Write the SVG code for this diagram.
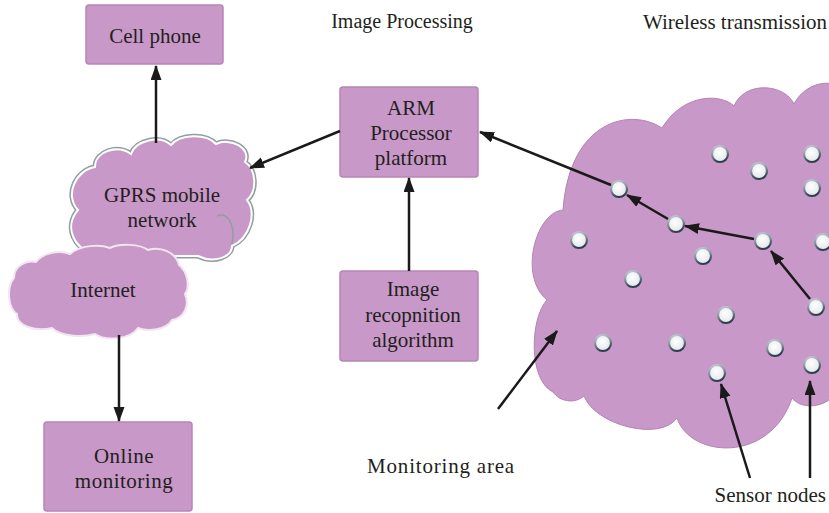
<svg xmlns="http://www.w3.org/2000/svg" width="829" height="513" viewBox="0 0 829 513">
<style>
.box{fill:#c898c8;stroke:#b585b5;stroke-width:1.5}
.t{font-family:"Liberation Serif","Times New Roman",serif;font-size:21px;fill:#231f20;text-anchor:middle}
.cl{fill:#c898c8}
.ln{stroke:#1a1a1a;stroke-width:2.5;fill:none;marker-end:url(#ah)}
.sn{fill:url(#ng);stroke:url(#ns);stroke-width:2.2}
</style>
<defs>
<marker id="ah" markerUnits="userSpaceOnUse" markerWidth="15" markerHeight="12" refX="14" refY="5.5" orient="auto">
<path d="M0,0 L15,5.5 L0,11 Z" fill="#1a1a1a"/>
</marker>
<radialGradient id="ng" cx="0.45" cy="0.4" r="0.6">
<stop offset="0" stop-color="#ffffff"/>
<stop offset="1" stop-color="#e2e6e8"/>
</radialGradient>
<linearGradient id="ns" x1="0" y1="0" x2="0.3" y2="1">
<stop offset="0" stop-color="#c8d0d6"/>
<stop offset="0.5" stop-color="#8a98a4"/>
<stop offset="1" stop-color="#2e3e4e"/>
</linearGradient>
</defs>

<text class="t" x="402" y="28" style="font-size:20px">Image Processing</text>
<text class="t" x="735" y="29">Wireless transmission</text>

<g id="monitoring-area">
<path class="cl" stroke="#b583b5" stroke-width="1" d="M835 84 C815 80 800 92 794 104 C785 84 745 80 734 106 C722 94 684 92 662 128 C632 108 570 118 563 210 C536 212 518 276 547 300 C530 318 528 380 553 392 C560 402 575 404 584 396 C595 425 660 442 677 418 C690 458 770 464 792 398 C800 408 820 410 835 395 Z"/>
<text class="t" x="441" y="473" style="letter-spacing:0.8px">Monitoring area</text>
</g>

<g id="gprs">
<path fill="none" stroke="#8f9f9f" stroke-width="5" d="M100 256 C72 250 64 226 78 210 C64 195 76 170 95 167 C95 151 118 144 131 154 C136 140 160 135 171 145 C180 134 206 133 216 144 C230 137 252 148 245 162 C257 170 257 192 247 200 C257 213 250 238 232 246 C232 257 214 264 198 256 Z"/>
<path class="cl" stroke="#ffffff" stroke-width="2" d="M100 256 C72 250 64 226 78 210 C64 195 76 170 95 167 C95 151 118 144 131 154 C136 140 160 135 171 145 C180 134 206 133 216 144 C230 137 252 148 245 162 C257 170 257 192 247 200 C257 213 250 238 232 246 C232 257 214 264 198 256 Z"/>
<path fill="none" stroke="#8f9f9f" stroke-width="1.5" d="M217 216 C226 212 236 222 232 244"/>
<text class="t" x="162" y="202">GPRS mobile</text>
<text class="t" x="162" y="227">network</text>
</g>

<g id="internet">
<path class="cl" stroke="#f2e4f2" stroke-width="2" d="M14 278 C14 266 26 260 36 262 C44 252 60 250 70 254 C80 245 100 244 110 248 C120 243 140 244 148 250 C160 246 176 252 179 265 C188 272 190 288 185 294 C190 306 184 318 172 320 C166 330 148 332 138 328 C130 340 105 341 95 334 C82 338 60 336 52 328 C36 332 16 326 17 314 C8 308 6 288 14 278 Z"/>
<text class="t" x="103" y="297">Internet</text>
</g>

<g id="cell-phone">
<rect class="box" x="86" y="5" width="137" height="59" rx="3"/>
<text class="t" x="155" y="43">Cell phone</text>
</g>

<g id="online-monitoring">
<rect class="box" x="44" y="422" width="148" height="89" rx="3"/>
<text class="t" x="124" y="463" style="letter-spacing:0.5px">Online</text>
<text class="t" x="124" y="488" style="letter-spacing:0.5px">monitoring</text>
</g>

<g id="arm">
<rect class="box" x="340" y="87" width="138" height="90" rx="3"/>
<text class="t" x="411" y="115">ARM</text>
<text class="t" x="411" y="140">Processor</text>
<text class="t" x="411" y="165">platform</text>
</g>

<g id="image-recognition">
<rect class="box" x="340" y="271" width="138" height="90" rx="3"/>
<text class="t" x="413" y="296">Image</text>
<text class="t" x="413" y="322">recopnition</text>
<text class="t" x="413" y="347">algorithm</text>
</g>

<g id="sensor-nodes">
<circle class="sn" cx="720" cy="154" r="8"/>
<circle class="sn" cx="759" cy="171" r="8"/>
<circle class="sn" cx="812" cy="154" r="8"/>
<circle class="sn" cx="812" cy="188" r="8"/>
<circle class="sn" cx="619" cy="189" r="8"/>
<circle class="sn" cx="676" cy="224" r="8"/>
<circle class="sn" cx="579" cy="240" r="8"/>
<circle class="sn" cx="763" cy="241" r="8"/>
<circle class="sn" cx="823" cy="242" r="8"/>
<circle class="sn" cx="703" cy="256" r="8"/>
<circle class="sn" cx="633" cy="279" r="8"/>
<circle class="sn" cx="816" cy="307" r="8"/>
<circle class="sn" cx="726" cy="315" r="8"/>
<circle class="sn" cx="603" cy="343" r="8"/>
<circle class="sn" cx="677" cy="343" r="8"/>
<circle class="sn" cx="775" cy="348" r="8"/>
<circle class="sn" cx="812" cy="365" r="8"/>
<circle class="sn" cx="717" cy="373" r="8"/>
<text class="t" x="826" y="502" style="text-anchor:end">Sensor nodes</text>
</g>

<g id="connectors">
<line class="ln" x1="156" y1="143" x2="156" y2="66"/>
<line class="ln" x1="340" y1="131" x2="250" y2="168"/>
<line class="ln" x1="409" y1="271" x2="409" y2="178"/>
<line class="ln" x1="119" y1="335" x2="119" y2="421"/>
<line class="ln" x1="611" y1="185" x2="480" y2="132"/>
<line class="ln" x1="668" y1="219" x2="627" y2="195"/>
<line class="ln" x1="754" y1="239" x2="685" y2="226"/>
<line class="ln" x1="810" y1="299" x2="771" y2="251"/>
<line class="ln" x1="498" y1="409" x2="557" y2="331"/>
<line class="ln" x1="750" y1="478" x2="721" y2="384"/>
<line class="ln" x1="810" y1="478" x2="810" y2="381"/>
</g>
</svg>
